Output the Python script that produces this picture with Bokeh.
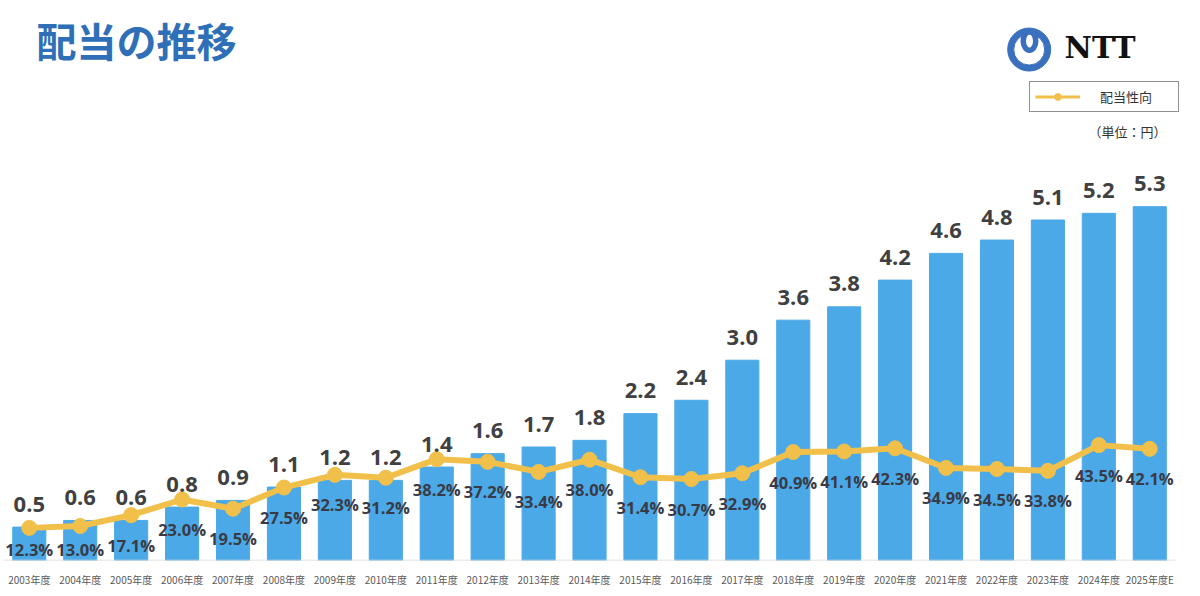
from bokeh.plotting import figure
from bokeh.models import (Range1d, FixedTicker, ColumnDataSource, Legend,
                          LegendItem, Label)
from bokeh.core.properties import value
from bokeh.embed import file_html
from bokeh.resources import INLINE

# ---- data -------------------------------------------------------------
years = ["2003年度", "2004年度", "2005年度", "2006年度", "2007年度", "2008年度",
         "2009年度", "2010年度", "2011年度", "2012年度", "2013年度", "2014年度",
         "2015年度", "2016年度", "2017年度", "2018年度", "2019年度", "2020年度",
         "2021年度", "2022年度", "2023年度", "2024年度", "2025年度E"]
dividends = [0.5, 0.6, 0.6, 0.8, 0.9, 1.1, 1.2, 1.2, 1.4, 1.6, 1.7, 1.8,
             2.2, 2.4, 3.0, 3.6, 3.8, 4.2, 4.6, 4.8, 5.1, 5.2, 5.3]
payout = [12.3, 13.0, 17.1, 23.0, 19.5, 27.5, 32.3, 31.2, 38.2, 37.2, 33.4,
          38.0, 31.4, 30.7, 32.9, 40.9, 41.1, 42.3, 34.9, 34.5, 33.8, 43.5, 42.1]

# ---- layout constants (pixels, page coordinates) ------------------------
W, H = 1190, 592
PAGE = 0           # observed offset of the figure on the page
Y_BASE = 559.5     # page y of the baseline
FRAME_H = Y_BASE - PAGE
BOTTOM = H - FRAME_H
X0 = 28.8          # page x of first category centre
PITCH = 50.93      # px per category
DIV_PX = 66.7      # px per yen
PCT_PX = 2.65      # px per percent
PCT_LABEL_DROP = 30   # px below marker
PCT_LABEL_MIN = 11    # px above baseline (lowest allowed label centre)


def fx(px):
    return (px - X0) / PITCH


def fy(py):
    return (Y_BASE - py) / DIV_PX


n = len(years)
src = ColumnDataSource(dict(
    x=list(range(n)),
    div=dividends,
    pct=payout,
    pct_lbl_y=[max(v - PCT_LABEL_DROP / PCT_PX, PCT_LABEL_MIN / PCT_PX)
               for v in payout],
    div_lbl=[f"{d:.1f}" for d in dividends],
    pct_lbl=[f"{v:.1f}%" for v in payout],
))

BAR = "#4CA9E7"
GOLD = "#F1C04A"
BLUE = "#2F6FB7"

p = figure(width=W, height=H,
           x_range=Range1d(fx(PAGE), fx(PAGE + W)),
           y_range=Range1d(0, FRAME_H / DIV_PX),
           output_backend="svg", toolbar_location=None,
           min_border_left=0, min_border_right=0, min_border_top=0,
           min_border_bottom=int(round(BOTTOM)), y_axis_location=None,
           outline_line_color=None, background_fill_color="white")
p.extra_y_ranges = {"pct": Range1d(0, FRAME_H / PCT_PX)}
p.grid.visible = False

ax = p.xaxis[0]
ax.ticker = FixedTicker(ticks=list(range(n)))
ax.major_label_overrides = {i: years[i] for i in range(n)}
ax.axis_line_color = None
ax.major_tick_line_color = None
ax.minor_tick_line_color = None
ax.major_tick_out = 0
ax.major_tick_in = 0
ax.major_label_standoff = 11
ax.major_label_text_font = "Noto Sans CJK JP"
ax.major_label_text_font_size = "10px"
ax.major_label_text_color = "#595959"

# bars
p.vbar(x="x", top="div", width=0.65, source=src, color=BAR)
p.segment(x0=-0.5, y0=0, x1=n - 0.5, y1=0, color="#D9D9D9", line_width=1.5)

# payout line
p.line("x", "pct", source=src, y_range_name="pct", color=GOLD, line_width=6)
p.scatter("x", "pct", source=src, y_range_name="pct", size=15, color=GOLD)

# value labels
p.text(x="x", y="div", text="div_lbl", source=src, text_align="center",
       text_baseline="middle", y_offset=-23,
       text_font=value("Open Sans"), text_font_style="bold",
       text_font_size="22px", text_color="#404040")
p.text(x="x", y="pct_lbl_y", text="pct_lbl", source=src, y_range_name="pct",
       text_align="center", text_baseline="middle",
       text_font=value("Open Sans"), text_font_style="bold",
       text_font_size="16.5px", text_color="#383B45")

# title
p.add_layout(Label(x=fx(36), y=fy(39), text="配当の推移",
                   text_baseline="middle", text_font="Noto Sans CJK JP",
                   text_font_style="bold", text_font_size="40px",
                   text_color=BLUE))

# logo
LOGO = "#3A70BE"
p.annulus(x=fx(1028.7), y=fy(49), inner_radius=15.5, outer_radius=21.5,
          inner_radius_units="screen", outer_radius_units="screen",
          color=LOGO)
p.ellipse(x=fx(1029), y=fy(40.5), width=12.5, height=18.5,
          width_units="screen", height_units="screen", fill_color=None,
          line_color=LOGO, line_width=5.5)
p.add_layout(Label(x=fx(1064), y=fy(47), text="NTT", text_baseline="middle",
                   text_font="DejaVu Serif", text_font_style="bold",
                   text_font_size="30px", text_color="#111111"))

# legend (proxy renderers with thinner styling, as in the reference)
nan = float("nan")
leg_line = p.line(x=[nan, nan], y=[nan, nan], color=GOLD, line_width=3)
leg_dot = p.scatter(x=[nan], y=[nan], size=11, color=GOLD)
legend = Legend(items=[LegendItem(label="配当性向",
                                  renderers=[leg_line, leg_dot])],
                location=(1029 - PAGE, FRAME_H - (111 - PAGE)),
                label_text_font="Noto Sans CJK JP", label_text_font_size="13px",
                label_text_color="#333333", border_line_color="#222222",
                border_line_width=1, padding=5, spacing=0, margin=0,
                glyph_width=45, glyph_height=17, label_height=17,
                label_width=73, label_standoff=20)
p.add_layout(legend)

p.add_layout(Label(x=fx(1166), y=fy(131), text="（単位：円）",
                   text_align="right", text_baseline="middle",
                   text_font="Noto Sans CJK JP", text_font_size="13px",
                   text_color="#333333"))

open("out.html", "w").write(file_html(p, INLINE))
